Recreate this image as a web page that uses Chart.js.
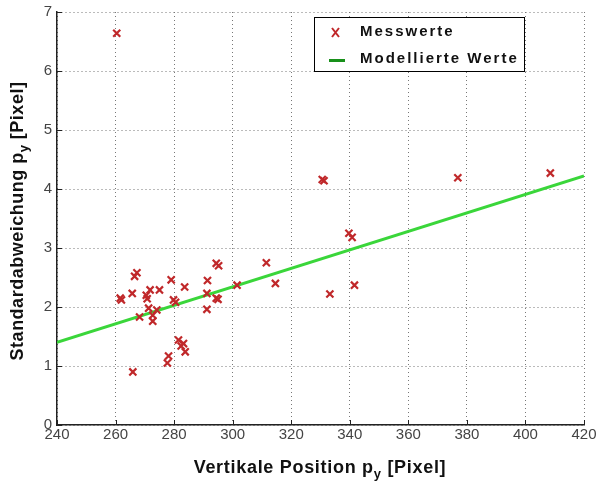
<!DOCTYPE html>
<html>
<head>
<meta charset="utf-8">
<script src="https://cdn.jsdelivr.net/npm/chart.js@4.4.1/dist/chart.umd.min.js"></script>
<style>
  html, body { margin: 0; padding: 0; background: #fff; }
  #wrap { width: 598px; height: 487px; position: relative; }
</style>
</head>
<body>
<div id="wrap"><canvas id="chart" width="598" height="487"></canvas></div>
<script>
// Messwerte (vertical position vs. standard deviation)
const messX = [260.4, 261.6, 262.0, 265.7, 265.9, 267.3, 266.5, 268.2, 270.5, 270.8,
               271.3, 271.8, 272.7, 272.7, 274.1, 275.0, 277.7, 278.1, 279.0, 279.8,
               280.5, 281.5, 282.4, 283.2, 283.6, 283.8, 291.2, 291.2, 291.4, 294.4,
               295.2, 294.4, 295.0, 301.5, 311.5, 314.6, 330.6, 331.2, 333.2, 339.7,
               340.8, 341.6, 376.9, 408.5];
const messY = [6.64, 2.15, 2.12, 2.23, 0.90, 2.58, 2.52, 1.83, 2.20, 2.14,
               1.98, 2.29, 1.86, 1.76, 1.95, 2.29, 1.05, 1.17, 2.46, 2.12,
               2.08, 1.44, 1.34, 1.38, 2.34, 1.24, 1.96, 2.23, 2.45, 2.74,
               2.70, 2.15, 2.13, 2.37, 2.75, 2.40, 4.16, 4.14, 2.22, 3.25,
               3.18, 2.37, 4.19, 4.27];
// Modellierte Werte (linear fit)
const modelX = [240, 420];
const modelY = [1.40, 4.22];

const xTicks = [240, 260, 280, 300, 320, 340, 360, 380, 400, 420];
const yTicks = [0, 1, 2, 3, 4, 5, 6, 7];

const seriesNames = ['Messwerte', 'Modellierte Werte'];
const xTitle = ['Vertikale Position p', 'y', ' [Pixel]'];
const yTitle = ['Standardabweichung p', 'y', ' [Pixel]'];

const tickFont = '"Liberation Sans Narrow", "Liberation Sans", Arial, sans-serif';
const titleFont = '"Liberation Sans", Arial, sans-serif';

function drawSubTitle(ctx, parts, x, y, size, spacing) {
  ctx.letterSpacing = spacing + 'px';
  const sub = Math.round(size * 0.7);
  ctx.font = 'bold ' + size + 'px ' + titleFont;
  const w0 = ctx.measureText(parts[0]).width;
  const w2 = ctx.measureText(parts[2]).width;
  ctx.font = 'bold ' + sub + 'px ' + titleFont;
  const w1 = ctx.measureText(parts[1]).width;
  let sx = x - (w0 + w1 + w2) / 2;
  ctx.textAlign = 'left';
  ctx.textBaseline = 'middle';
  ctx.font = 'bold ' + size + 'px ' + titleFont;
  ctx.fillText(parts[0], sx, y);
  ctx.font = 'bold ' + sub + 'px ' + titleFont;
  ctx.fillText(parts[1], sx + w0, y + size * 0.35);
  ctx.font = 'bold ' + size + 'px ' + titleFont;
  ctx.fillText(parts[2], sx + w0 + w1, y);
  ctx.letterSpacing = '0px';
}

const extras = {
  id: 'extras',
  afterDraw(chart) {
    const ctx = chart.ctx;
    const a = chart.chartArea;
    const xs = chart.scales.x, ys = chart.scales.y;
    ctx.save();
    // small inward ticks
    ctx.strokeStyle = '#222';
    ctx.lineWidth = 1;
    ctx.beginPath();
    xTicks.forEach(v => {
      const px = Math.round(xs.getPixelForValue(v)) + 0.5;
      ctx.moveTo(px, a.bottom); ctx.lineTo(px, a.bottom - 5);
    });
    yTicks.forEach(v => {
      const py = Math.round(ys.getPixelForValue(v)) + 0.5;
      ctx.moveTo(a.left, py); ctx.lineTo(a.left + 5, py);
    });
    ctx.stroke();

    // axis titles
    ctx.fillStyle = '#111';
    drawSubTitle(ctx, xTitle, 320, 468, 18, 0.7);
    ctx.save();
    ctx.translate(18, 221);
    ctx.rotate(-Math.PI / 2);
    drawSubTitle(ctx, yTitle, 0, 0, 18, 0.5);
    ctx.restore();

    // legend box inside plot
    const lx = 314, ly = 17, lw = 210, lh = 54;
    ctx.fillStyle = '#fff';
    ctx.fillRect(lx, ly, lw, lh);
    ctx.strokeStyle = '#000';
    ctx.lineWidth = 1;
    ctx.strokeRect(lx + 0.5, ly + 0.5, lw, lh);
    // marker
    ctx.strokeStyle = '#c0282a';
    ctx.lineWidth = 2;
    ctx.beginPath();
    ctx.moveTo(332, 28); ctx.lineTo(339, 37);
    ctx.moveTo(339, 28); ctx.lineTo(332, 37);
    ctx.stroke();
    ctx.strokeStyle = '#18901a';
    ctx.lineWidth = 3;
    ctx.beginPath();
    ctx.moveTo(329, 60.5); ctx.lineTo(345, 60.5);
    ctx.stroke();
    ctx.fillStyle = '#111';
    ctx.font = 'bold 15px ' + titleFont;
    ctx.letterSpacing = '2px';
    ctx.textAlign = 'left';
    ctx.textBaseline = 'middle';
    ctx.fillText(seriesNames[0], 360, 32);
    ctx.fillText(seriesNames[1], 360, 59);
    ctx.letterSpacing = '0px';
    ctx.restore();
  }
};

const messData = messX.map((x, i) => ({ x: x, y: messY[i] }));
const modelData = modelX.map((x, i) => ({ x: x, y: modelY[i] }));

function noPad(s) {
  s.paddingLeft = 0; s.paddingRight = 0; s.paddingTop = 0; s.paddingBottom = 0;
}

new Chart(document.getElementById('chart'), {
  type: 'scatter',
  data: {
    datasets: [{
      label: seriesNames[1],
      type: 'line',
      data: modelData,
      borderColor: '#3ad63a',
      borderWidth: 3,
      pointRadius: 0,
      tension: 0,
      order: 2
    }, {
      label: seriesNames[0],
      data: messData,
      pointStyle: 'crossRot',
      pointRadius: 5,
      pointBorderWidth: 2.2,
      borderColor: '#c0282a',
      backgroundColor: '#c0282a',
      order: 1
    }]
  },
  options: {
    responsive: false,
    animation: false,
    devicePixelRatio: 1,
    layout: { padding: { top: 12, right: 14, left: 0, bottom: 0 } },
    plugins: { legend: { display: false }, tooltip: { enabled: false } },
    scales: {
      x: {
        type: 'linear',
        min: 240, max: 420,
        afterBuildTicks: s => { s.ticks = xTicks.map(v => ({ value: v })); },
        afterFit: s => { s.height = 62; noPad(s); },
        grid: { color: '#777', lineWidth: 1, drawTicks: false },
        border: { display: true, color: '#222', width: 1.5, dash: [1, 3] },
        ticks: { color: '#444', padding: 1, autoSkip: false, font: { family: tickFont, size: 15 }, maxRotation: 0 }
      },
      y: {
        type: 'linear',
        min: 0, max: 7,
        afterBuildTicks: s => { s.ticks = yTicks.map(v => ({ value: v })); },
        afterFit: s => { s.width = 57; noPad(s); },
        grid: { color: '#777', lineWidth: 1, drawTicks: false },
        border: { display: true, color: '#222', width: 1.5, dash: [1, 3] },
        ticks: { color: '#444', padding: 5, autoSkip: false, font: { family: tickFont, size: 15 } }
      }
    }
  },
  plugins: [extras]
});
</script>
</body>
</html>
